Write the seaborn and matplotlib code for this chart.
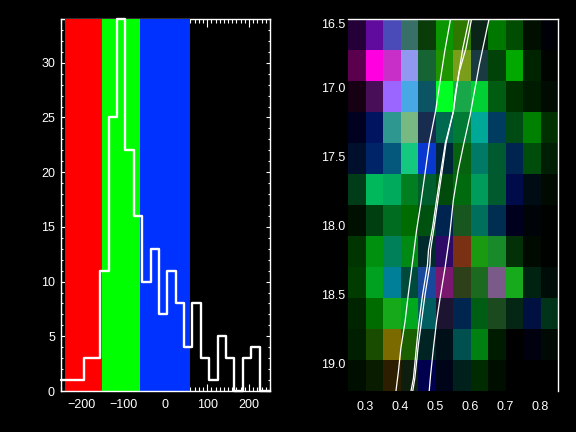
import numpy as np
import pandas as pd
import matplotlib
matplotlib.use('Agg')
import matplotlib.pyplot as plt
import seaborn as sns
from matplotlib.colors import ListedColormap
from matplotlib.ticker import MultipleLocator

# Histogram (left panel)
bin_edges = [-250, -195, -155, -135, -115, -95, -75, -55, -35, -15, 5, 25, 45, 65, 85, 105, 125, 145, 165, 185, 205, 225, 250]
counts = [1, 3, 11, 25, 34, 22, 16, 10, 13, 7, 11, 8, 4, 8, 3, 1, 5, 3, 0, 3, 4, 0]

# Velocity bands behind the histogram
band_edges = [-240, -150, -60, 60]
band_colors = ['#ff0000', '#00ff00', '#0032ff']

# Colour cells (right panel), one row per list
cell_rows = [
    ['#250038', '#600a9e', '#4a4ab8', '#387068', '#0a3c0a', '#0a9600', '#2f7800', '#0a2418', '#007800', '#004c00', '#000f00', '#000008'],
    ['#5a004e', '#ff00e0', '#c82ec8', '#9098f0', '#166434', '#1e9400', '#7a9e1a', '#1a3a42', '#004208', '#00a800', '#002400', '#000400'],
    ['#180014', '#480e58', '#9a66ff', '#48a8e6', '#0a5464', '#00ff22', '#18a84a', '#00d034', '#005c10', '#003000', '#001c00', '#000c02'],
    ['#000020', '#001460', '#2e9890', '#78b882', '#182c50', '#006a50', '#007a34', '#00a898', '#003c60', '#004a14', '#008000', '#003000'],
    ['#00102c', '#002468', '#04587c', '#14c880', '#0838d0', '#002438', '#06620e', '#007a66', '#005a30', '#002450', '#004c0a', '#001e04'],
    ['#003c18', '#00b85c', '#00aa5c', '#007e20', '#005e2e', '#004a0c', '#006a0e', '#009c5c', '#005a2e', '#000c4a', '#000c14', '#000a00'],
    ['#001000', '#004010', '#006c20', '#006c00', '#005010', '#002450', '#185620', '#00705c', '#002e50', '#00001e', '#000408', '#000200'],
    ['#003400', '#009010', '#008058', '#008a14', '#002a2c', '#2c0a66', '#7a3012', '#1a9a10', '#188a2a', '#043008', '#000a00', '#000200'],
    ['#003c00', '#00a020', '#008098', '#004a3c', '#18489c', '#7a1870', '#2e401a', '#1c6a20', '#7a5a88', '#16aa1c', '#002210', '#000c08'],
    ['#002400', '#006c00', '#16aa1a', '#00a81e', '#005e60', '#1c1430', '#002650', '#005e14', '#1a4a1e', '#042614', '#001040', '#003418'],
    ['#001e00', '#1a4c00', '#7a6a00', '#1a6000', '#002424', '#001018', '#005050', '#008010', '#001c00', '#000000', '#00000e', '#000a04'],
    ['#000e00', '#0a1c00', '#2e1e00', '#0e1e0e', '#00004e', '#000418', '#00201c', '#002a00', '#000e00', '#000000', '#000000', '#000000'],
]

# White curves over the cells
curve_a_x = [.543, .527, .513, .500, .482, .470, .458, .446, .432, .422, .413, .401, .394, .387]
curve_a_y = [16.5, 16.725, 16.955, 17.172, 17.402, 17.62, 17.838, 18.031, 18.309, 18.503, 18.696, 18.89, 19.059, 19.2]
curve_b_x = [.603, .587, .568, .556, .551, .530, .518, .511, .499, .486, .484, .470, .460, .451, .441, .435]
curve_b_y = [16.5, 16.713, 16.882, 17.052, 17.172, 17.402, 17.62, 17.741, 17.959, 18.176, 18.285, 18.503, 18.696, 18.866, 19.107, 19.2]
curve_c_x = [.596, .578, .565, .551, .528, .513, .503, .492, .480, .477, .463, .453, .446, .437, .430]
curve_c_y = [16.5, 16.713, 16.918, 17.172, 17.402, 17.644, 17.813, 18.007, 18.176, 18.285, 18.503, 18.696, 18.866, 19.107, 19.2]
curve_d_x = [.653, .625, .599, .581, .565, .551, .540, .527, .513, .503, .494, .486, .482]
curve_d_y = [16.5, 16.834, 17.197, 17.402, 17.596, 17.813, 18.08, 18.309, 18.527, 18.696, 18.89, 19.083, 19.2]

sns.set_theme(style='ticks', rc={
    'figure.facecolor': 'black', 'axes.facecolor': 'black', 'savefig.facecolor': 'black',
    'axes.edgecolor': 'white', 'xtick.color': 'white', 'ytick.color': 'white',
    'text.color': 'white', 'axes.linewidth': 1.0, 'font.size': 9,
})
plt.rcParams['font.family'] = ['Liberation Sans', 'DejaVu Sans']

fig = plt.figure(figsize=(5.76, 4.32), dpi=100)
W, H = 576.0, 432.0

# Left panel
ax = fig.add_axes([60.5 / W, 1 - 391 / H, 209.5 / W, 372 / H])
ax.set_axisbelow(True)
for i, c in enumerate(band_colors):
    ax.axvspan(band_edges[i], band_edges[i + 1], color=c, lw=0, zorder=1)
centers = [(bin_edges[i] + bin_edges[i + 1]) / 2 for i in range(len(counts))]
sns.histplot(x=centers, weights=counts, bins=bin_edges, element='step', fill=False,
             color='white', linewidth=1.7, ax=ax, zorder=3)
for line in ax.lines:
    line.set_clip_on(False)
ax.set_xlim(-250, 250)
ax.set_ylim(0, 34)
ax.set_xlabel('')
ax.set_ylabel('')
ax.xaxis.set_major_locator(MultipleLocator(100))
ax.xaxis.set_minor_locator(MultipleLocator(10))
ax.yaxis.set_major_locator(MultipleLocator(5))
ax.yaxis.set_minor_locator(MultipleLocator(1))
ax.tick_params(axis='x', which='major', direction='in', top=True, bottom=True, length=5.4, width=0.8, pad=6, labelsize=9)
ax.tick_params(axis='x', which='minor', direction='in', top=True, bottom=True, length=3, width=0.8)
ax.tick_params(axis='y', which='major', direction='in', left=True, right=True, length=3, width=0.8, pad=4, labelsize=9)
ax.tick_params(axis='y', which='minor', direction='in', left=True, right=True, length=1.5, width=0.8)
ax.spines['top'].set_zorder(0.6)
ax.get_yticklabels()[0].set_va('bottom')
for s in ax.spines.values():
    s.set_visible(True)

# Right panel: cells through heatmap, then a second axes in data units on top
n_rows, n_cols = len(cell_rows), len(cell_rows[0])
cell_index = pd.DataFrame(np.arange(n_rows * n_cols).reshape(n_rows, n_cols))
cell_cmap = ListedColormap([c for row in cell_rows for c in row])
pos = [348 / W, 1 - 391 / H, 210 / W, 372 / H]
ax_cells = fig.add_axes(pos)
sns.heatmap(cell_index, cmap=cell_cmap, cbar=False, xticklabels=False, yticklabels=False,
            vmin=-0.5, vmax=n_rows * n_cols - 0.5, ax=ax_cells)

ax2 = fig.add_axes(pos, facecolor='none')
for cx, cy in [(curve_a_x, curve_a_y), (curve_b_x, curve_b_y), (curve_c_x, curve_c_y), (curve_d_x, curve_d_y)]:
    sns.lineplot(x=cx, y=cy, sort=False, estimator=None, color='white', linewidth=0.9, ax=ax2)
ax2.set_xlim(0.25, 0.85)
ax2.set_ylim(19.2, 16.5)
ax2.set_xticks([0.3, 0.4, 0.5, 0.6, 0.7, 0.8])
ax2.set_yticks([16.5, 17.0, 17.5, 18.0, 18.5, 19.0])
ax2.set_xticklabels(['0.3', '0.4', '0.5', '0.6', '0.7', '0.8'])
ax2.set_yticklabels(['16.5', '17.0', '17.5', '18.0', '18.5', '19.0'])
ax2.tick_params(axis='both', length=0, labelsize=9)
ax2.tick_params(axis='x', pad=7)
ax2.tick_params(axis='y', pad=2)
ax2.get_yticklabels()[0].set_va('top')
ax2.spines['left'].set_visible(False)
ax2.spines['bottom'].set_visible(False)

fig.savefig('out.png', dpi=100)
